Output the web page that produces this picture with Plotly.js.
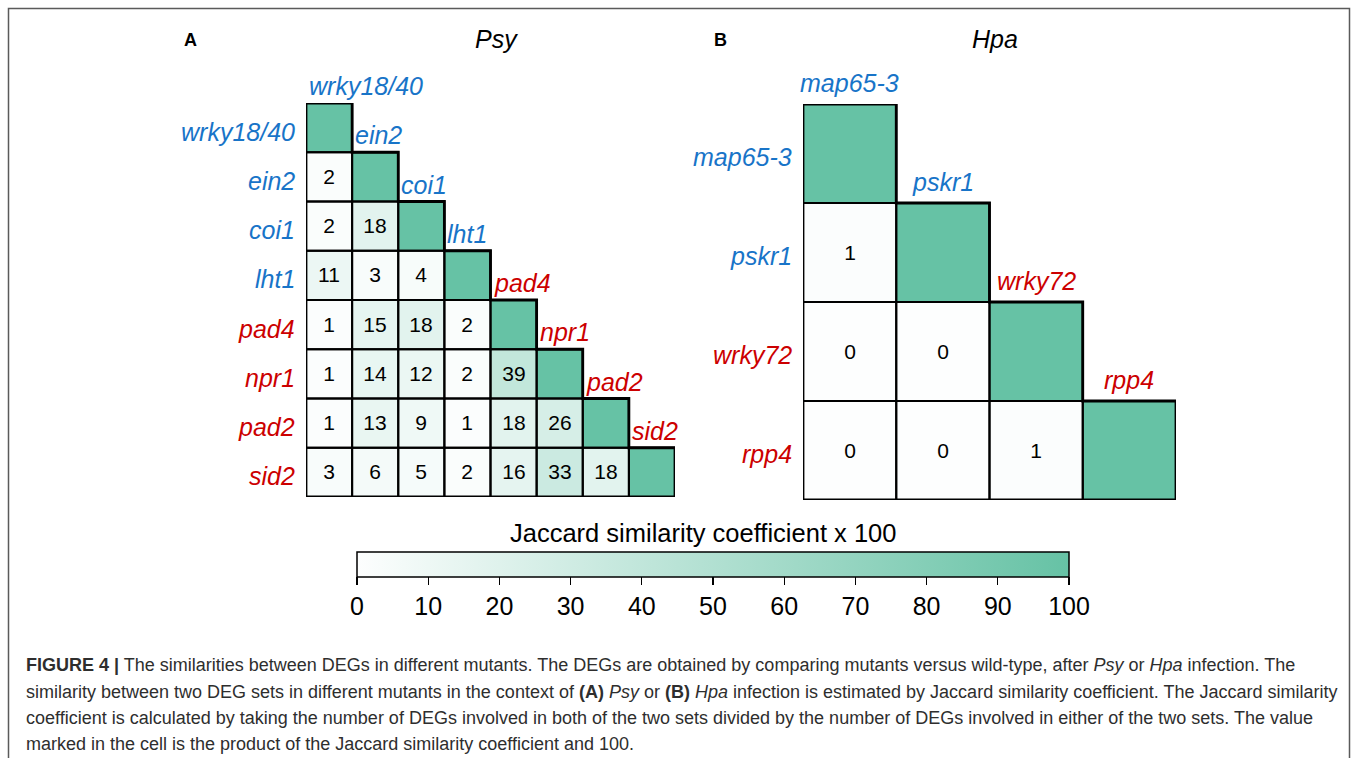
<!DOCTYPE html>
<html>
<head>
<meta charset="utf-8">
<script src="https://cdn.plot.ly/plotly-3.0.1.min.js"></script>
<style>
html,body{margin:0;padding:0;background:#fff;}
#chart{width:1358px;height:758px;}
</style>
</head>
<body>
<div id="chart"></div>
<script>
// ---------- DATA ----------
const psyMutants = ['wrky18/40', 'ein2', 'coi1', 'lht1', 'pad4', 'npr1', 'pad2', 'sid2'];
const psyGroups  = ['blue', 'blue', 'blue', 'blue', 'red', 'red', 'red', 'red'];
// lower triangle rows (row i has i values), Jaccard x 100
const psyLower = [
  [],
  [2],
  [2, 18],
  [11, 3, 4],
  [1, 15, 18, 2],
  [1, 14, 12, 2, 39],
  [1, 13, 9, 1, 18, 26],
  [3, 6, 5, 2, 16, 33, 18]
];

const hpaMutants = ['map65-3', 'pskr1', 'wrky72', 'rpp4'];
const hpaGroups  = ['blue', 'blue', 'red', 'red'];
const hpaLower = [
  [],
  [1],
  [0, 0],
  [0, 0, 1]
];
const selfValue = 100;
const colorbarTicks = [0, 10, 20, 30, 40, 50, 60, 70, 80, 90, 100];

// ---------- STYLE ----------
const W = 1358, H = 758;
const FONT = 'Liberation Sans, Arial, Helvetica, sans-serif';
const groupColor = {blue: '#1874C8', red: '#CC0000'};
const px = v => v / W;
const py = v => 1 - v / H;

function buildMatrix(lower) {
  const n = lower.length;
  const z = [], t = [];
  for (let i = 0; i < n; i++) {
    const zr = [], tr = [];
    for (let j = 0; j < n; j++) {
      if (j < i) { zr.push(lower[i][j]); tr.push(String(lower[i][j])); }
      else if (j === i) { zr.push(selfValue); tr.push(''); }
      else { zr.push(null); tr.push(''); }
    }
    z.push(zr); t.push(tr);
  }
  return {z, t};
}

const A = buildMatrix(psyLower);
const B = buildMatrix(hpaLower);

const traces = [
  {type: 'heatmap', z: A.z, text: A.t, texttemplate: '%{text}',
   textfont: {family: FONT, size: 21, color: '#000'},
   coloraxis: 'coloraxis', xaxis: 'x', yaxis: 'y', hoverongaps: false},
  {type: 'heatmap', z: B.z, text: B.t, texttemplate: '%{text}',
   textfont: {family: FONT, size: 21, color: '#000'},
   coloraxis: 'coloraxis', xaxis: 'x2', yaxis: 'y2', hoverongaps: false}
];

const shapes = [];
const annotations = [];

function addPanel(names, groups, xa, ya, opts) {
  const n = names.length;
  const xr = xa === 'x' ? 'x' : 'x2';
  const yr = ya === 'y' ? 'y' : 'y2';
  for (let i = 0; i < n; i++) {
    for (let j = 0; j <= i; j++) {
      shapes.push({type: 'rect', xref: xr, yref: yr,
        x0: j - 0.5, x1: j + 0.5, y0: i - 0.5, y1: i + 0.5,
        line: {color: '#000', width: 2}, layer: 'above'});
    }
    // row label (left)
    annotations.push({xref: xr, yref: yr, x: -0.5, y: i, xanchor: 'right', yanchor: 'middle',
      xshift: -9, yshift: opts.rowShift, showarrow: false,
      text: '<i>' + names[i] + '</i>',
      font: {family: FONT, size: 25, color: groupColor[groups[i]]}});
    // column label (above diagonal cell)
    annotations.push({xref: xr, yref: yr,
      x: opts.colCenter ? i : i - 0.5, y: i - 0.5,
      xanchor: opts.colCenter ? 'center' : 'left', yanchor: 'bottom',
      xshift: opts.colCenter ? 0 : opts.colX, yshift: opts.colY, showarrow: false,
      text: '<i>' + names[i] + '</i>',
      font: {family: FONT, size: 25, color: groupColor[groups[i]]}});
  }
  // outer staircase outline, slightly heavier
  let p = `M ${-0.5} ${-0.5} L ${0.5} ${-0.5}`;
  for (let k = 0; k < n; k++) {
    p += ` L ${k + 0.5} ${k + 0.5}`;
    if (k < n - 1) p += ` L ${k + 1.5} ${k + 0.5}`;
  }
  p += ` L ${-0.5} ${n - 0.5} Z`;
  shapes.push({type: 'path', xref: xr, yref: yr, path: p, line: {color: '#000', width: 2.8}, layer: 'above'});
}

addPanel(psyMutants, psyGroups, 'x', 'y', {colCenter: false, colX: 1, colY: 1, rowShift: -4});
addPanel(hpaMutants, hpaGroups, 'x2', 'y2', {colCenter: true, colY: 5, rowShift: -4});

// frame (left, top, right)
shapes.push({type: 'path', xref: 'paper', yref: 'paper',
  path: `M ${px(8.5)} ${py(760)} L ${px(8.5)} ${py(8.5)} L ${px(1349.5)} ${py(8.5)} L ${px(1349.5)} ${py(760)}`,
  line: {color: '#5a5a5a', width: 1.5}});

function pxText(x, y, text, size, opts = {}) {
  annotations.push(Object.assign({xref: 'paper', yref: 'paper', x: px(x), y: py(y),
    xanchor: 'center', yanchor: 'middle', showarrow: false, text: text,
    font: {family: FONT, size: size, color: '#000'}}, opts));
}

pxText(190, 40, '<b>A</b>', 18);
pxText(497, 39, '<i>Psy</i>', 25);
pxText(720, 40, '<b>B</b>', 18);
pxText(995, 39, '<i>Hpa</i>', 25);
pxText(703, 533, 'Jaccard similarity coefficient x 100', 25.5);

const captionLines = [
  '<b>FIGURE 4 |</b> The similarities between DEGs in different mutants. The DEGs are obtained by comparing mutants versus wild-type, after <i>Psy</i> or <i>Hpa</i> infection. The',
  'similarity between two DEG sets in different mutants in the context of <b>(A)</b> <i>Psy</i> or <b>(B)</b> <i>Hpa</i> infection is estimated by Jaccard similarity coefficient. The Jaccard similarity',
  'coefficient is calculated by taking the number of DEGs involved in both of the two sets divided by the number of DEGs involved in either of the two sets. The value',
  'marked in the cell is the product of the Jaccard similarity coefficient and 100.'
];
const captionY = [665, 691.5, 718, 744];
captionLines.forEach((t, k) => pxText(24, captionY[k], t, 18,
  {xanchor: 'left', font: {family: FONT, size: 18, color: '#2e2e2e'}}));

const layout = {
  width: W, height: H,
  margin: {l: 0, r: 0, t: 0, b: 0},
  paper_bgcolor: '#fff', plot_bgcolor: 'rgba(0,0,0,0)',
  showlegend: false,
  xaxis:  {domain: [px(306), px(675)], range: [-0.5, psyMutants.length - 0.5], visible: false, fixedrange: true},
  yaxis:  {domain: [py(497), py(103)], range: [psyMutants.length - 0.5, -0.5], visible: false, fixedrange: true},
  xaxis2: {domain: [px(803), px(1176)], range: [-0.5, hpaMutants.length - 0.5], visible: false, fixedrange: true, anchor: 'y2'},
  yaxis2: {domain: [py(500), py(104)], range: [hpaMutants.length - 0.5, -0.5], visible: false, fixedrange: true, anchor: 'x2'},
  coloraxis: {
    cmin: 0, cmax: 100,
    colorscale: [[0, '#FDFEFE'], [1, '#66C2A5']],
    colorbar: {
      orientation: 'h',
      x: px(713), xanchor: 'center',
      y: py(552), yanchor: 'top',
      len: 712, lenmode: 'pixels',
      thickness: 25, thicknessmode: 'pixels',
      xpad: 0, ypad: 0,
      outlinewidth: 1.5, outlinecolor: '#000',
      ticks: 'outside', ticklen: 8, tickwidth: 1.2, tickcolor: '#000',
      tickvals: colorbarTicks, ticktext: colorbarTicks.map(String),
      tickfont: {family: FONT, size: 25, color: '#000'},
      title: {text: ''}
    }
  },
  shapes: shapes,
  annotations: annotations
};

Plotly.newPlot('chart', traces, layout, {displayModeBar: false, staticPlot: true});
</script>
</body>
</html>
